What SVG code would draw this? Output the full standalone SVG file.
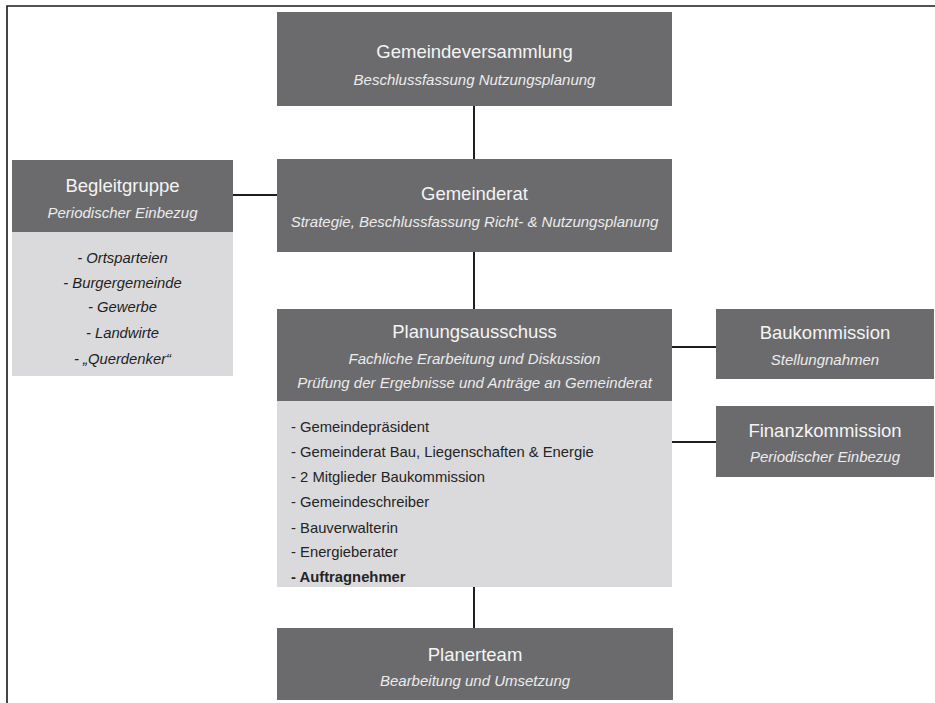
<svg xmlns="http://www.w3.org/2000/svg" width="935" height="703" viewBox="0 0 935 703">
<style>
.hd{fill:#6b6b6e}
.bd{fill:#dadadc}
.t{font-family:"Liberation Sans",Arial,sans-serif;fill:#f4f4f4;font-size:18.5px;text-anchor:middle}
.s{font-family:"Liberation Sans",Arial,sans-serif;fill:#ececec;font-size:15px;font-style:italic;text-anchor:middle}
.li{font-family:"Liberation Sans",Arial,sans-serif;fill:#1e1e1e;font-size:14.8px;font-style:italic;text-anchor:middle}
.l{font-family:"Liberation Sans",Arial,sans-serif;fill:#242424;font-size:14.8px}
.c{stroke:#1e1e1e;stroke-width:2;fill:none}
</style>
<rect width="935" height="703" fill="#ffffff"/>
<path d="M7 703 V6 H935" fill="none" stroke="#1a1a1a" stroke-width="1.6"/>
<g id="connectors">
<line class="c" x1="474" y1="105" x2="474" y2="160"/>
<line class="c" x1="233" y1="195" x2="277" y2="195"/>
<line class="c" x1="474" y1="252" x2="474" y2="309"/>
<line class="c" x1="672" y1="347" x2="716" y2="347"/>
<line class="c" x1="672" y1="442" x2="716" y2="442"/>
<line class="c" x1="474" y1="587" x2="474" y2="628"/>
</g>
<g id="gemeindeversammlung">
<rect class="hd" x="277" y="12" width="395" height="94"/>
<text class="t" x="474.5" y="58">Gemeindeversammlung</text>
<text class="s" x="474.5" y="85">Beschlussfassung Nutzungsplanung</text>
</g>
<g id="gemeinderat">
<rect class="hd" x="277" y="159" width="395" height="93"/>
<text class="t" x="474.5" y="200">Gemeinderat</text>
<text class="s" x="474.5" y="227">Strategie, Beschlussfassung Richt- &amp; Nutzungsplanung</text>
</g>
<g id="begleitgruppe">
<rect class="hd" x="12" y="160" width="221" height="72"/>
<rect class="bd" x="12" y="232" width="221" height="144"/>
<text class="t" x="122.5" y="192">Begleitgruppe</text>
<text class="s" x="122.5" y="218">Periodischer Einbezug</text>
<text class="li" x="122.5" y="263">- Ortsparteien</text>
<text class="li" x="122.5" y="288">- Burgergemeinde</text>
<text class="li" x="122.5" y="312">- Gewerbe</text>
<text class="li" x="122.5" y="338">- Landwirte</text>
<text class="li" x="122.5" y="364">- „Querdenker“</text>
</g>
<g id="planungsausschuss">
<rect class="hd" x="277" y="309" width="395" height="92"/>
<rect class="bd" x="277" y="401" width="395" height="186"/>
<text class="t" x="474.5" y="338">Planungsausschuss</text>
<text class="s" x="474.5" y="364">Fachliche Erarbeitung und Diskussion</text>
<text class="s" x="474.5" y="388">Prüfung der Ergebnisse und Anträge an Gemeinderat</text>
<text class="l" x="291" y="432">- Gemeindepräsident</text>
<text class="l" x="291" y="457">- Gemeinderat Bau, Liegenschaften &amp; Energie</text>
<text class="l" x="291" y="482">- 2 Mitglieder Baukommission</text>
<text class="l" x="291" y="507">- Gemeindeschreiber</text>
<text class="l" x="291" y="533">- Bauverwalterin</text>
<text class="l" x="291" y="557">- Energieberater</text>
<text class="l" x="291" y="582" font-weight="bold" fill="#111">- Auftragnehmer</text>
</g>
<g id="baukommission">
<rect class="hd" x="716" y="309" width="218" height="70"/>
<text class="t" x="825" y="339">Baukommission</text>
<text class="s" x="825" y="365">Stellungnahmen</text>
</g>
<g id="finanzkommission">
<rect class="hd" x="716" y="406" width="218" height="71"/>
<text class="t" x="825" y="437">Finanzkommission</text>
<text class="s" x="825" y="462">Periodischer Einbezug</text>
</g>
<g id="planerteam">
<rect class="hd" x="277" y="628" width="396" height="72"/>
<text class="t" x="475" y="661">Planerteam</text>
<text class="s" x="475" y="686">Bearbeitung und Umsetzung</text>
</g>
</svg>
